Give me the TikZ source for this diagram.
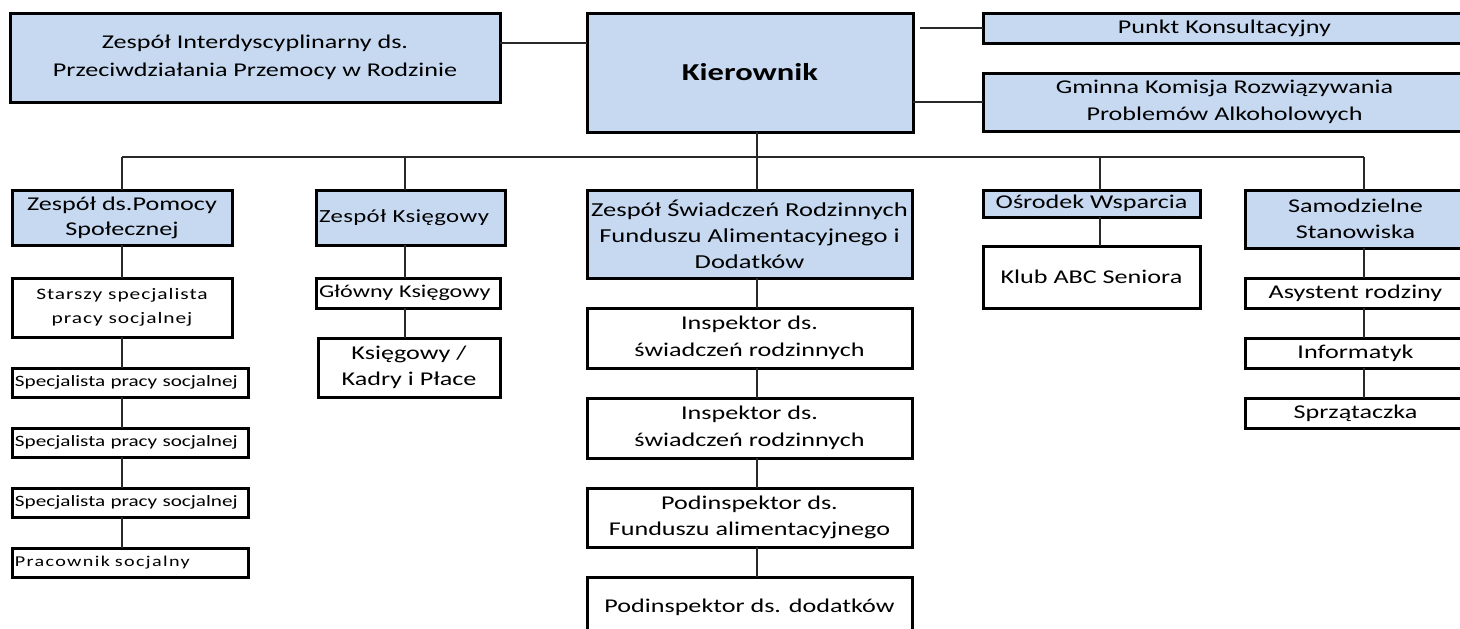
\documentclass[tikz,border=0pt]{standalone}
\usepackage{fontspec}
\setmainfont{Carlito}[FakeStretch=1.34]
\definecolor{boxblue}{RGB}{198,217,241}
\definecolor{lineg}{RGB}{40,40,40}
\newcommand\fs[2]{\fontsize{#1}{#2}\selectfont}
\newcommand\bx[7]{%
  \pgfmathsetmacro\bw{#4-#2}\pgfmathsetmacro\bh{#5-#3}%
  \pgfmathsetmacro\btw{#4-#2-6}%
  \pgfmathsetmacro\bcx{(#2+#4)/2}\pgfmathsetmacro\bcy{(#3+#5)/2}%
  \node[#6, minimum width=\bw pt, minimum height=\bh pt] (#1) at (\bcx,\bcy) {#7};}
\tikzset{
  box/.style={draw=black, line width=3pt, fill=white, inner sep=0pt, outer sep=0pt, align=center, text=black, font=\fs{19.5}{26.5}},
  head/.style={box, fill=boxblue},
  lft/.style={text width=\btw pt, align=left},
  small/.style={font=\fs{15.8}{18}},
  conn/.style={draw=lineg, line width=1.1pt},
}
\begin{document}
\begin{tikzpicture}[x=1pt,y=-1pt]
\useasboundingbox (0,0) rectangle (1460,629);
% top row
\bx{A}{10}{13}{500}{102}{head,font=\fs{19.5}{28}}{Zespół Interdyscyplinarny ds.\\Przeciwdziałania Przemocy w Rodzinie}
\bx{K}{587}{13}{913}{132}{head,font=\fs{24.3}{28}\bfseries}{Kierownik}
\bx{P}{983}{13}{1466}{43}{head}{Punkt Konsultacyjny}
\bx{G}{983}{73}{1466}{131}{head}{Gminna Komisja Rozwiązywania\\Problemów Alkoholowych}
% second row
\bx{ZP}{12}{190}{232}{245}{head,font=\fs{19.5}{25}}{Zespół ds.Pomocy\\Społecznej}
\bx{ZK}{316}{190}{505}{245}{head,lft,font={\fs{18.5}{20}\addfontfeature{LetterSpace=2}}}{Zespół Księgowy}
\bx{ZS}{587}{190}{912}{278}{head,font=\fs{19.8}{26}}{Zespół Świadczeń Rodzinnych\\Funduszu Alimentacyjnego i\\Dodatków}
\bx{OW}{983}{190}{1200}{217}{head}{Ośrodek Wsparcia}
\bx{SS}{1245}{190}{1466}{248}{head}{Samodzielne\\Stanowiska}
% left column
\bx{L1}{12}{278}{232}{337}{box,font={\fs{16}{24}\addfontfeature{LetterSpace=6}}}{Starszy specjalista\\pracy socjalnej}
\bx{L2}{12}{368}{248}{397}{box,lft,small}{\raisebox{-3pt}{Specjalista pracy socjalnej}}
\bx{L3}{12}{428}{248}{457}{box,lft,small}{\raisebox{-3pt}{Specjalista pracy socjalnej}}
\bx{L4}{12}{488}{248}{517}{box,lft,small}{\raisebox{-3pt}{Specjalista pracy socjalnej}}
\bx{L5}{12}{548}{248}{577}{box,lft,font={\fs{15}{18}\addfontfeature{LetterSpace=9}}}{\raisebox{-3pt}{Pracownik socjalny}}
% ksiegowy column
\bx{K1}{316}{278}{500}{308}{box,lft,font=\fs{18}{20}}{Główny Księgowy}
\bx{K2}{318}{338}{500}{397}{box}{Księgowy /\\Kadry i Płace}
% swiadczenia column
\bx{S1}{587}{308}{912}{368}{box}{Inspektor ds.\\świadczeń rodzinnych}
\bx{S2}{587}{398}{912}{458}{box}{Inspektor ds.\\świadczeń rodzinnych}
\bx{S3}{587}{488}{912}{547}{box}{Podinspektor ds.\\Funduszu alimentacyjnego}
\bx{S4}{587}{577}{912}{637}{box}{Podinspektor ds. dodatków}
% osrodek column
\bx{O1}{983}{246}{1200}{308}{box}{Klub ABC Seniora}
% samodzielne column
\bx{M1}{1245}{278}{1466}{308}{box}{Asystent rodziny}
\bx{M2}{1245}{338}{1466}{368}{box}{Informatyk}
\bx{M3}{1245}{398}{1466}{428}{box}{Sprzątaczka}
% bus coordinates
\coordinate (ya) at (0,43);
\coordinate (pk) at (920,0);
\coordinate (bk) at (757,157);
\coordinate (b1) at (122,157);
\coordinate (b2) at (405,157);
\coordinate (b3) at (757,157);
\coordinate (b4) at (1100,157);
\coordinate (b5) at (1364,157);
% connectors top
\draw[conn] (A.east |- ya) -- (K.west |- ya);
\draw[conn] (P.west) -- (P.west -| pk);
\draw[conn] (K.east |- G.west) -- (G.west);
\draw[conn] (bk |- K.south) -- (bk);
\draw[conn] (b1) -- (b5);
\draw[conn] (b1) -- (b1 |- ZP.north);
\draw[conn] (b2) -- (b2 |- ZK.north);
\draw[conn] (b3) -- (b3 |- ZS.north);
\draw[conn] (b4) -- (b4 |- OW.north);
\draw[conn] (b5) -- (b5 |- SS.north);
% columns
\draw[conn] (ZP.south -| b1) -- (L1.north -| b1);
\draw[conn] (L1.south -| b1) -- (L2.north -| b1);
\draw[conn] (L2.south -| b1) -- (L3.north -| b1);
\draw[conn] (L3.south -| b1) -- (L4.north -| b1);
\draw[conn] (L4.south -| b1) -- (L5.north -| b1);
\draw[conn] (ZK.south -| b2) -- (K1.north -| b2);
\draw[conn] (K1.south -| b2) -- (K2.north -| b2);
\draw[conn] (ZS.south -| b3) -- (S1.north -| b3);
\draw[conn] (S1.south -| b3) -- (S2.north -| b3);
\draw[conn] (S2.south -| b3) -- (S3.north -| b3);
\draw[conn] (S3.south -| b3) -- (S4.north -| b3);
\draw[conn] (OW.south -| b4) -- (O1.north -| b4);
\draw[conn] (SS.south -| b5) -- (M1.north -| b5);
\draw[conn] (M1.south -| b5) -- (M2.north -| b5);
\draw[conn] (M2.south -| b5) -- (M3.north -| b5);
\end{tikzpicture}
\end{document}
